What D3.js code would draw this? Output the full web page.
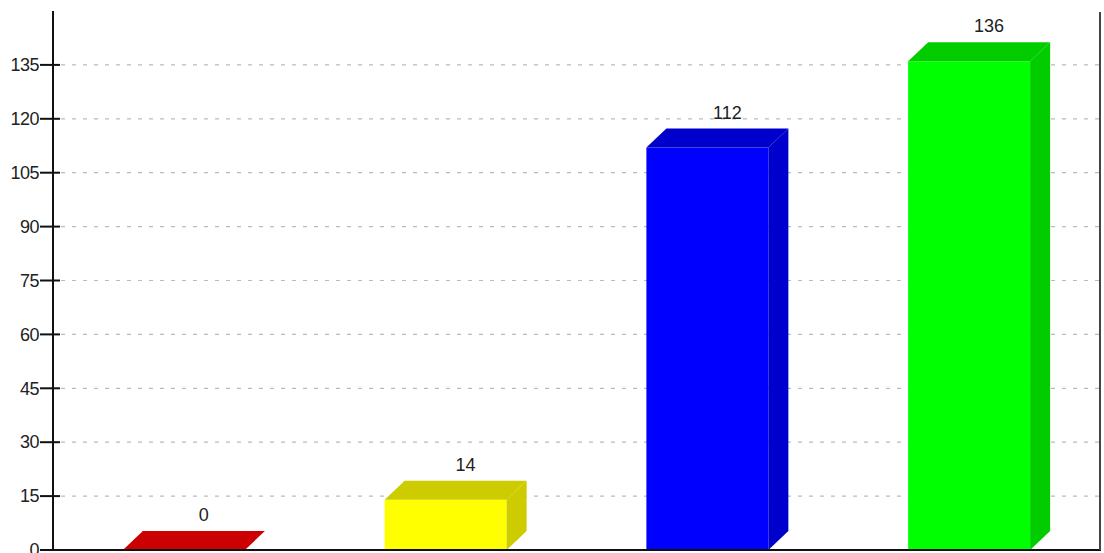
<!DOCTYPE html>
<html>
<head>
<meta charset="utf-8">
<script src="https://d3js.org/d3.v7.min.js"></script>
<style>
  html, body { margin: 0; padding: 0; background: #fff; }
  svg { display: block; }
  text { font-family: "Liberation Sans", Arial, sans-serif; }
</style>
</head>
<body>
<svg id="chart" width="1104" height="553"></svg>
<script>
// ---- data ----
const categories = ["A", "B", "C", "D"];
const values = [0, 14, 112, 136];
const frontColors = ["#ff0000", "#ffff00", "#0000ff", "#00ff00"];
const shadeColors = ["#cc0000", "#cccc00", "#0000cc", "#00cc00"];
const tickValues = [0, 15, 30, 45, 60, 75, 90, 105, 120, 135];

// ---- layout ----
const plotLeft = 53, plotRight = 1100, plotTop = 11, plotBottom = 550;
const depthX = 20, depthY = 19;
const barFrac = 0.466;

const svg = d3.select("#chart");

const x = d3.scaleBand().domain(categories).range([plotLeft, plotRight]).padding(0);
const y = d3.scaleLinear().domain([0, 150]).range([plotBottom, plotTop]);

// grid lines
svg.append("g").selectAll("line").data(tickValues.filter(d => d > 0)).join("line")
  .attr("x1", plotLeft + 8).attr("x2", plotRight)
  .attr("y1", d => y(d)).attr("y2", d => y(d))
  .attr("stroke", "#bbbbbb").attr("stroke-width", 1.2)
  .attr("stroke-dasharray", "4,7");

// bars
const bw = x.bandwidth() * barFrac;
const bars = svg.append("g").selectAll("g").data(values).join("g");
bars.each(function(v, i) {
  const g = d3.select(this);
  const x0 = x(categories[i]) + (x.bandwidth() - bw) / 2;
  const x1 = x0 + bw;
  const yt = y(v), yb = y(0);
  g.append("rect").attr("x", x0).attr("y", yt).attr("width", bw).attr("height", yb - yt)
    .attr("fill", frontColors[i]);
  g.append("path").attr("d", `M${x0},${yt}L${x0 + depthX},${yt - depthY}L${x1 + depthX},${yt - depthY}L${x1},${yt}Z`)
    .attr("fill", shadeColors[i]);
  g.append("path").attr("d", `M${x1},${yt}L${x1 + depthX},${yt - depthY}L${x1 + depthX},${yb - depthY}L${x1},${yb}Z`)
    .attr("fill", shadeColors[i]);
  g.append("text").attr("x", (x0 + x1) / 2 + depthX).attr("y", yt - depthY - 10)
    .attr("text-anchor", "middle").attr("font-size", 18).attr("fill", "#222")
    .text(v);
});

// y axis
const yAxis = d3.axisLeft(y).tickValues(tickValues).tickSize(0).tickPadding(14);
const ga = svg.append("g").attr("transform", `translate(${plotLeft},0)`).call(yAxis);
ga.select(".domain").remove();
ga.selectAll("text").attr("font-size", 18).attr("fill", "#222")
  .attr("font-family", "Liberation Sans, Arial, sans-serif").attr("letter-spacing", "-0.5");
svg.append("g").selectAll("line").data(tickValues).join("line")
  .attr("x1", plotLeft - 13).attr("x2", plotLeft + 7)
  .attr("y1", d => y(d)).attr("y2", d => y(d))
  .attr("stroke", "#111").attr("stroke-width", 2);
svg.append("line").attr("x1", plotLeft).attr("x2", plotLeft).attr("y1", plotTop).attr("y2", plotBottom + 1)
  .attr("stroke", "#111").attr("stroke-width", 2);
svg.append("line").attr("x1", plotLeft).attr("x2", plotRight + 1).attr("y1", plotBottom).attr("y2", plotBottom)
  .attr("stroke", "#111").attr("stroke-width", 2);
svg.append("line").attr("x1", plotRight).attr("x2", plotRight).attr("y1", plotTop + 1).attr("y2", plotBottom)
  .attr("stroke", "#444").attr("stroke-width", 2);
</script>
</body>
</html>
